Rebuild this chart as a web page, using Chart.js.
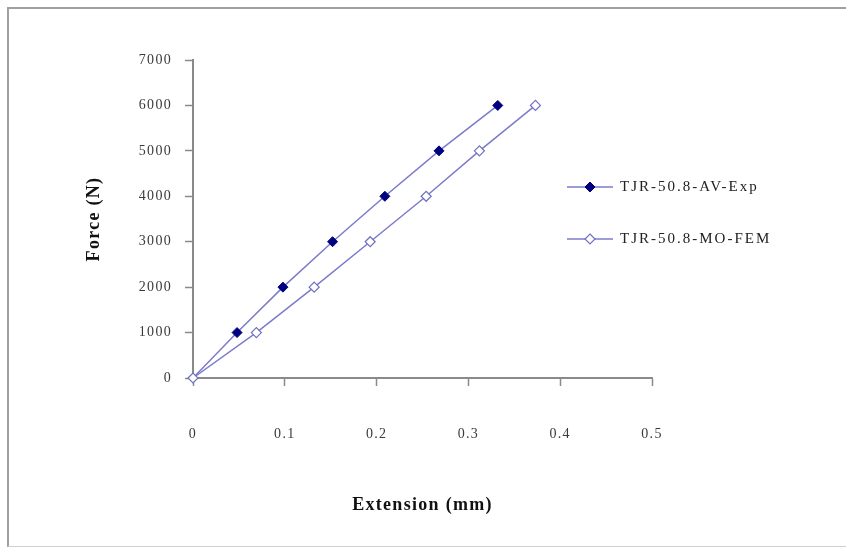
<!DOCTYPE html>
<html lang="en">
<head>
    <meta charset="UTF-8">
    <title>Force vs Extension</title>
    <script src="https://cdn.jsdelivr.net/npm/chart.js"></script>
    <style>
        html, body {
            margin: 0;
            padding: 0;
            background: #ffffff;
            overflow: hidden;
        }

        .frame {
            position: absolute;
            left: 7px;
            top: 7px;
            width: 900px;
            height: 537px;
            border-top: 2px solid #a0a0a0;
            border-left: 2px solid #a0a0a0;
            border-bottom: 1px solid #d0d0d0;
        }

        canvas {
            position: absolute;
            left: 0;
            top: 0;
        }
    </style>
</head>
<body>
    <div class="frame"></div>
    <canvas id="forceChart" width="846" height="548"></canvas>

    <script>
        // values
        const forceN = [0, 1000, 2000, 3000, 4000, 5000, 6000];
        const extExp = [0, 0.048, 0.098, 0.152, 0.209, 0.268, 0.332];
        const extFem = [0, 0.069, 0.132, 0.193, 0.254, 0.312, 0.373];
        const seriesNames = ['TJR-50.8-AV-Exp', 'TJR-50.8-MO-FEM'];

        const lineColor = '#7b7bcb';
        const navy = '#000080';
        const axisGrey = '#8a8a8a';
        const serif = '"Liberation Serif", serif';

        function toPoints(xs, ys) {
            return xs.map((x, i) => ({ x: x, y: ys[i] }));
        }

        // the old Excel text is drawn quite wide, so spread the letters a bit
        const wideText = {
            id: 'wideText',
            beforeDraw(chart) {
                chart.ctx.letterSpacing = '1.3px';
            }
        };

        // legend drawn by hand so the sample line + marker look like Excel's
        const sideLegend = {
            id: 'sideLegend',
            afterDraw(chart) {
                const ctx = chart.ctx;
                const rows = [187, 239];
                chart.data.datasets.forEach((ds, i) => {
                    const y = rows[i];
                    ctx.save();
                    ctx.strokeStyle = ds.borderColor;
                    ctx.lineWidth = 1.5;
                    ctx.beginPath();
                    ctx.moveTo(567, y);
                    ctx.lineTo(613, y);
                    ctx.stroke();
                    ctx.fillStyle = ds.pointBackgroundColor;
                    ctx.strokeStyle = ds.pointBorderColor;
                    ctx.lineWidth = ds.pointBorderWidth;
                    ctx.beginPath();
                    ctx.moveTo(590, y - 5);
                    ctx.lineTo(595, y);
                    ctx.lineTo(590, y + 5);
                    ctx.lineTo(585, y);
                    ctx.closePath();
                    ctx.fill();
                    ctx.stroke();
                    ctx.letterSpacing = '2px';
                    ctx.fillStyle = '#222222';
                    ctx.font = '15px ' + serif;
                    ctx.textBaseline = 'middle';
                    ctx.fillText(ds.label, 620, y);
                    ctx.restore();
                });
            }
        };

        const ctx = document.getElementById('forceChart').getContext('2d');

        new Chart(ctx, {
            type: 'scatter',
            data: {
                datasets: [{
                    label: seriesNames[0],
                    data: toPoints(extExp, forceN),
                    order: 1,
                    clip: false,
                    showLine: true,
                    borderColor: lineColor,
                    borderWidth: 1.5,
                    pointStyle: 'rectRot',
                    pointRadius: 5,
                    pointBackgroundColor: navy,
                    pointBorderColor: navy,
                    pointBorderWidth: 1
                }, {
                    label: seriesNames[1],
                    data: toPoints(extFem, forceN),
                    order: 0,
                    clip: false,
                    showLine: true,
                    borderColor: lineColor,
                    borderWidth: 1.5,
                    pointStyle: 'rectRot',
                    pointRadius: 5,
                    pointBackgroundColor: '#ffffff',
                    pointBorderColor: '#7070c4',
                    pointBorderWidth: 1.2
                }]
            },
            options: {
                responsive: false,
                animation: false,
                layout: {
                    padding: { left: 0, right: 194, top: 60, bottom: 0 }
                },
                plugins: {
                    legend: { display: false },
                    tooltip: { enabled: false }
                },
                scales: {
                    x: {
                        type: 'linear',
                        min: 0,
                        max: 0.5,
                        afterFit(scale) { scale.height = 170; },
                        ticks: {
                            stepSize: 0.1,
                            padding: 40,
                            color: '#3a3a3a',
                            font: { family: serif, size: 14 },
                            maxRotation: 0,
                            callback: v => String(+v.toFixed(1))
                        },
                        grid: {
                            drawOnChartArea: false,
                            drawTicks: true,
                            tickLength: 8,
                            tickWidth: 1.5,
                            color: axisGrey
                        },
                        border: { color: axisGrey, width: 2 },
                        title: {
                            display: true,
                            text: 'Extension (mm)',
                            color: '#111111',
                            font: { family: serif, size: 18, weight: 'bold' },
                            padding: { top: 0, bottom: 32 }
                        }
                    },
                    y: {
                        min: 0,
                        max: 7000,
                        afterFit(scale) { scale.width = 193; },
                        ticks: {
                            stepSize: 1000,
                            padding: 13,
                            color: '#3a3a3a',
                            font: { family: serif, size: 14 },
                            callback: v => String(v)
                        },
                        grid: {
                            drawOnChartArea: false,
                            drawTicks: true,
                            tickLength: 8,
                            tickWidth: 1.5,
                            color: axisGrey
                        },
                        border: { color: axisGrey, width: 2 },
                        title: {
                            display: true,
                            text: 'Force (N)',
                            color: '#111111',
                            font: { family: serif, size: 18, weight: 'bold' },
                            padding: { top: 84, bottom: 0 }
                        }
                    }
                }
            },
            plugins: [wideText, sideLegend]
        });
    </script>
</body>
</html>
